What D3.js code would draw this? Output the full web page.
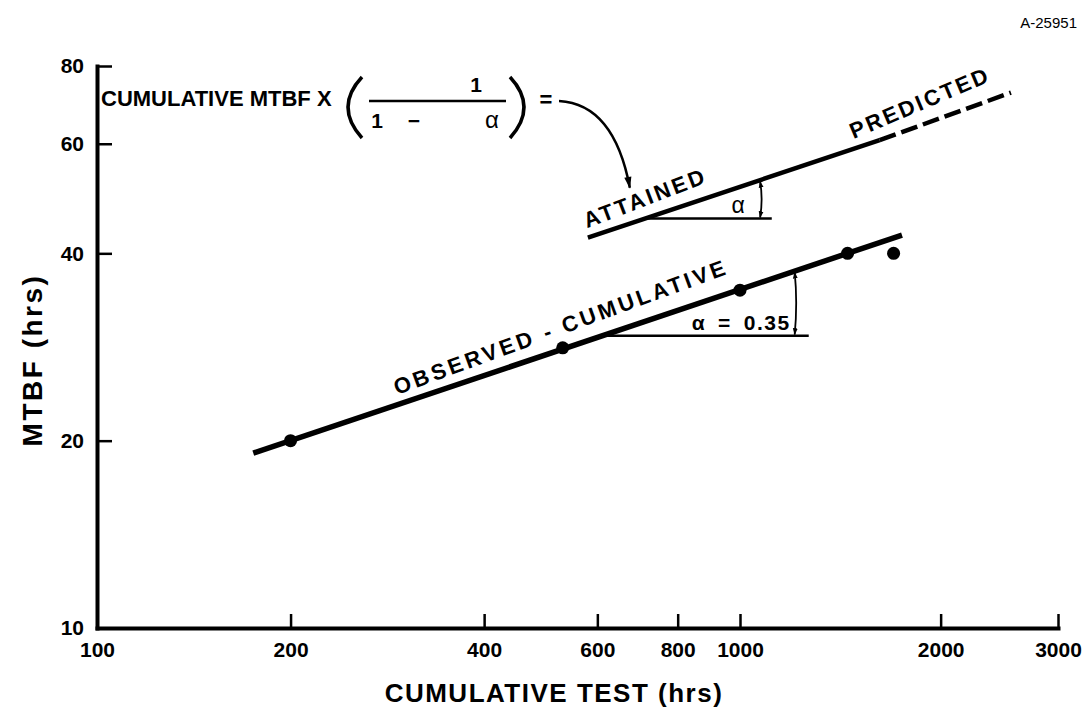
<!DOCTYPE html>
<html><head><meta charset="utf-8">
<script src="https://cdn.jsdelivr.net/npm/d3@7"></script>
<style>
body{margin:0;background:#fff;}
svg{display:block;font-family:"Liberation Sans",Arial,Helvetica,sans-serif;}
</style></head><body>
<svg id="chart" width="1087" height="708"></svg>
<script>
// ---- data ----
const xTickValues = [100, 200, 400, 600, 800, 1000, 2000, 3000];
const yTickValues = [10, 20, 40, 60, 80];
const testHours = [200, 530, 1000, 1450, 1700];
const mtbfObserved = [20, 28.2, 34.9, 40, 40];
const observedFitHours = [175, 1750];
const observedFitMtbf = [19.1, 42.8];
const attainedHours = [580, 1620];
const attainedMtbf = [42.4, 60.8];
const predictedHours = [1620, 2550];
const predictedMtbf = [60.8, 72.5];
// alpha construction lines: [horizontal from, horizontal to, level, arrow at]
const alphaObsLine = [606, 1268, 29.5, 1208];
const alphaAttLine = [718, 1116, 45.5, 1072];
const alphaObsLabel = "α\u2002=\u20020.35";
const alphaAttLabel = "α";

const svg = d3.select("#chart");
const x = d3.scaleLog().domain([100, 1000, 3000]).range([97, 740, 1058]);
const y = d3.scaleLog().domain([10, 80]).range([628, 66]);

function along(hrs, mt, t) {
  const f = (Math.log(t) - Math.log(hrs[0])) / (Math.log(hrs[1]) - Math.log(hrs[0]));
  return Math.exp(Math.log(mt[0]) + f * (Math.log(mt[1]) - Math.log(mt[0])));
}
function angleOf(hrs, mt) {
  return Math.atan2(y(mt[1]) - y(mt[0]), x(hrs[1]) - x(hrs[0])) * 180 / Math.PI;
}

const defs = svg.append("defs");
defs.append("marker").attr("id", "ah").attr("viewBox", "0 0 10 10")
  .attr("refX", 9).attr("refY", 5).attr("markerWidth", 7).attr("markerHeight", 7)
  .attr("markerUnits", "userSpaceOnUse").attr("orient", "auto-start-reverse")
  .append("path").attr("d", "M0,1.5 L10,5 L0,8.5 Z").attr("fill", "#000");
defs.append("marker").attr("id", "ahBig").attr("viewBox", "0 0 10 10")
  .attr("refX", 9).attr("refY", 5).attr("markerWidth", 16).attr("markerHeight", 12)
  .attr("markerUnits", "userSpaceOnUse").attr("orient", "auto")
  .append("path").attr("d", "M0,2 L10,5 L0,8 Z").attr("fill", "#000");

// axes
const fmt = d3.format("d");
const gx = svg.append("g").attr("transform", `translate(0,${y(10)})`)
  .call(d3.axisBottom(x).tickValues(xTickValues).tickFormat(fmt)
    .tickSizeInner(-14).tickSizeOuter(0).tickPadding(14));
const gy = svg.append("g").attr("transform", `translate(${x(100)},0)`)
  .call(d3.axisLeft(y).tickValues(yTickValues).tickFormat(fmt)
    .tickSizeInner(-15).tickSizeOuter(0).tickPadding(13));
[gx, gy].forEach(g => {
  g.select(".domain").attr("stroke", "#000").attr("stroke-width", 4).attr("stroke-linecap", "square");
  g.selectAll(".tick line").attr("stroke", "#000").attr("stroke-width", 2.5);
  g.selectAll(".tick text").attr("fill", "#000").attr("font-size", 21).attr("font-weight", "bold")
    .attr("font-family", '"Liberation Sans",Arial,sans-serif');
  g.attr("font-family", null);
});
gx.selectAll(".tick").filter(d => d === 100).select("line").remove();
gy.selectAll(".tick").filter(d => d === 10).select("line").remove();

// axis titles
svg.append("text").attr("x", 554).attr("y", 702).attr("text-anchor", "middle")
  .attr("font-size", 26).attr("font-weight", "bold").attr("letter-spacing", 1.5)
  .text("CUMULATIVE TEST (hrs)");
svg.append("text").attr("transform", "translate(42,360) rotate(-90)").attr("text-anchor", "middle")
  .attr("font-size", 28).attr("font-weight", "bold").attr("letter-spacing", 2.5)
  .text("MTBF (hrs)");
svg.append("text").attr("x", 1077).attr("y", 28).attr("text-anchor", "end")
  .attr("font-size", 15).text("A-25951");

// lines
const line = d3.line().x(d => x(d[0])).y(d => y(d[1]));
svg.append("path").datum(d3.zip(observedFitHours, observedFitMtbf)).attr("d", line)
  .attr("fill", "none").attr("stroke", "#000").attr("stroke-width", 5.5);
svg.append("path").datum(d3.zip(attainedHours, attainedMtbf)).attr("d", line)
  .attr("fill", "none").attr("stroke", "#000").attr("stroke-width", 4.5);
svg.append("path").datum(d3.zip(predictedHours, predictedMtbf)).attr("d", line)
  .attr("fill", "none").attr("stroke", "#000").attr("stroke-width", 4.5)
  .attr("stroke-dasharray", "17,6");

// points
svg.selectAll("circle.pt").data(d3.zip(testHours, mtbfObserved)).join("circle")
  .attr("class", "pt").attr("cx", d => x(d[0])).attr("cy", d => y(d[1])).attr("r", 6.5)
  .attr("fill", "#000");

// alpha constructions
function alphaConstruct(spec, hrs, mt) {
  const [t0, t1, lvl, ta] = spec;
  svg.append("line").attr("x1", x(t0)).attr("x2", x(t1)).attr("y1", y(lvl)).attr("y2", y(lvl))
    .attr("stroke", "#000").attr("stroke-width", 2.5);
  const top = along(hrs, mt, ta);
  svg.append("path").attr("d", `M${x(ta)},${y(top) + 2} Q${x(ta) + 3},${(y(top) + y(lvl)) / 2} ${x(ta)},${y(lvl) - 1}`)
    .attr("fill", "none").attr("stroke", "#000").attr("stroke-width", 1.8)
    .attr("marker-start", "url(#ah)").attr("marker-end", "url(#ah)");
}
alphaConstruct(alphaObsLine, observedFitHours, observedFitMtbf);
alphaConstruct(alphaAttLine, attainedHours, attainedMtbf);
svg.append("text").attr("x", x(alphaObsLine[3]) - 4).attr("y", y(alphaObsLine[2]) - 6)
  .attr("text-anchor", "end").attr("font-size", 21).attr("font-weight", "bold")
  .attr("letter-spacing", 1.5).text(alphaObsLabel);
svg.append("text").attr("x", x(alphaAttLine[3]) - 22).attr("y", y(alphaAttLine[2]) - 6)
  .attr("text-anchor", "middle").attr("font-size", 23)
  .text(alphaAttLabel);

// rotated line labels
function lineLabel(text, hrs, mt, t, size, ls, extraAngle, off) {
  const a = angleOf(hrs, mt) + extraAngle;
  const v = along(hrs, mt, t);
  svg.append("text").attr("transform", `translate(${x(t)},${y(v)}) rotate(${a})`)
    .attr("x", 0).attr("y", -off).attr("font-size", size).attr("font-weight", "bold")
    .attr("letter-spacing", ls).text(text);
}
lineLabel("OBSERVED - CUMULATIVE", observedFitHours, observedFitMtbf, 296, 22, 3.3, -1.5, 9);
lineLabel("ATTAINED", attainedHours, attainedMtbf, 585, 22, 2.8, -2.5, 9);
lineLabel("PREDICTED", predictedHours, predictedMtbf, 1500, 22, 2.6, -3, 10);

// formula
const fg = svg.append("g");
fg.append("text").attr("x", 101).attr("y", 106).attr("font-size", 22).attr("font-weight", "bold")
  .text("CUMULATIVE MTBF X");
fg.append("path").attr("d", "M362,77 Q334,107 362,138").attr("fill", "none")
  .attr("stroke", "#000").attr("stroke-width", 3.5);
fg.append("path").attr("d", "M510,77 Q538,107 510,138").attr("fill", "none")
  .attr("stroke", "#000").attr("stroke-width", 3.5);
fg.append("text").attr("x", 476).attr("y", 92).attr("text-anchor", "middle")
  .attr("font-size", 21).attr("font-weight", "bold").text("1");
fg.append("line").attr("x1", 369).attr("x2", 506).attr("y1", 101).attr("y2", 101)
  .attr("stroke", "#000").attr("stroke-width", 2.5);
fg.append("text").attr("x", 377).attr("y", 128).attr("text-anchor", "middle")
  .attr("font-size", 21).attr("font-weight", "bold").text("1");
fg.append("text").attr("x", 414).attr("y", 128).attr("text-anchor", "middle")
  .attr("font-size", 21).attr("font-weight", "bold").text("−");
fg.append("text").attr("x", 492).attr("y", 128).attr("text-anchor", "middle")
  .attr("font-size", 24).text("α");
fg.append("text").attr("x", 546).attr("y", 107).attr("text-anchor", "middle")
  .attr("font-size", 22).attr("font-weight", "bold").text("=");
const tipX = x(674), tipY = y(51);
svg.append("path").attr("d", `M559,101 Q614,104 ${tipX},${tipY}`)
  .attr("fill", "none").attr("stroke", "#000").attr("stroke-width", 2.5)
  .attr("marker-end", "url(#ahBig)");
</script>
</body></html>
